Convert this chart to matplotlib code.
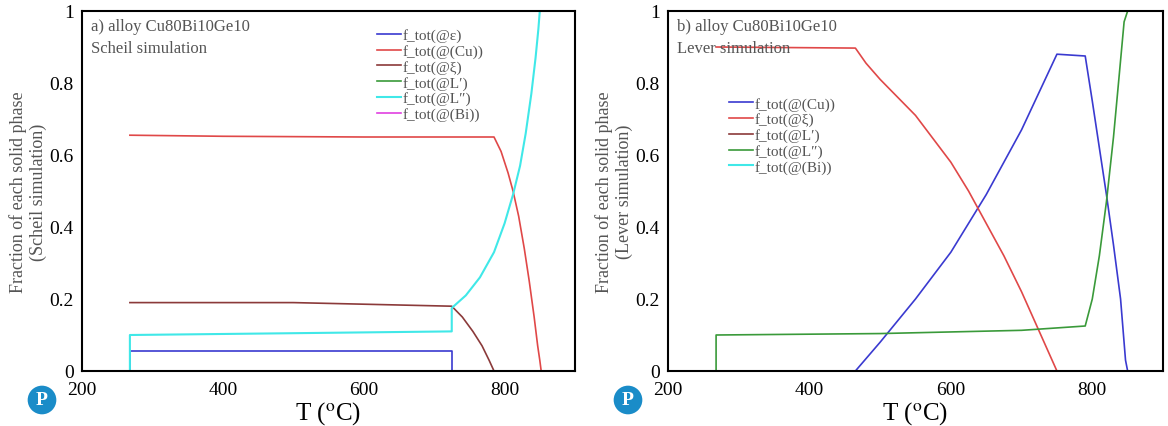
import numpy as np
import matplotlib
matplotlib.use("Agg")
import matplotlib.pyplot as plt

plt.rcParams['font.family'] = ['Liberation Serif', 'DejaVu Serif']
plt.rcParams['mathtext.fontset'] = 'stix'

# a) Scheil simulation
sch_eps_T = [268, 268, 725, 725]
sch_eps_f = [0.0, 0.055, 0.055, 0.0]
sch_cu_T = [268, 400, 600, 785, 795, 805, 812, 820, 828, 835, 842, 847, 850, 852]
sch_cu_f = [0.655, 0.652, 0.65, 0.65, 0.61, 0.55, 0.5, 0.43, 0.34, 0.25, 0.15, 0.07, 0.03, 0.0]
sch_xi_T = [268, 500, 725, 740, 755, 768, 778, 785]
sch_xi_f = [0.19, 0.19, 0.18, 0.15, 0.11, 0.07, 0.03, 0.0]
sch_L2_T = [268, 268, 500, 725, 725, 745, 765, 785, 800, 812, 822, 830, 838, 844, 848, 850]
sch_L2_f = [0.0, 0.1, 0.105, 0.11, 0.175, 0.21, 0.26, 0.33, 0.41, 0.49, 0.57, 0.66, 0.77, 0.87, 0.95, 1.0]

# b) Lever simulation
lev_cu_T = [465, 500, 550, 600, 650, 700, 750, 790, 800, 810, 820, 830, 840, 847, 850]
lev_cu_f = [0.0, 0.08, 0.2, 0.33, 0.49, 0.67, 0.88, 0.875, 0.75, 0.62, 0.49, 0.35, 0.2, 0.03, 0.0]
lev_xi_T = [268, 465, 480, 500, 525, 550, 575, 600, 625, 650, 675, 700, 725, 750]
lev_xi_f = [0.9, 0.897, 0.855, 0.81, 0.76, 0.71, 0.645, 0.58, 0.5, 0.41, 0.32, 0.22, 0.11, 0.0]
lev_L2_T = [268, 268, 500, 700, 790, 800, 810, 820, 830, 838, 845, 850]
lev_L2_f = [0.0, 0.1, 0.104, 0.113, 0.125, 0.2, 0.32, 0.47, 0.65, 0.82, 0.97, 1.0]

blue = "#3a3ad0"
red = "#e04848"
brown = "#8b3a3a"
green = "#3a9a3a"
cyan = "#40e8e8"
magenta = "#e040e0"
gray = "#555555"

fig = plt.figure(figsize=(11.68, 4.27), dpi=100)
ax1 = fig.add_axes([82/1168, 55/427, 493/1168, 360/427])
ax2 = fig.add_axes([668/1168, 55/427, 495/1168, 360/427])

ax1.plot(sch_eps_T, sch_eps_f, color=blue, lw=1.2, label="f_tot(@ε)")
ax1.plot(sch_cu_T, sch_cu_f, color=red, lw=1.2, label="f_tot(@(Cu))")
ax1.plot(sch_xi_T, sch_xi_f, color=brown, lw=1.2, label="f_tot(@ξ)")
ax1.plot([], [], color=green, lw=1.2, label="f_tot(@L′)")
ax1.plot(sch_L2_T, sch_L2_f, color=cyan, lw=1.5, label="f_tot(@L″)")
ax1.plot([], [], color=magenta, lw=1.2, label="f_tot(@(Bi))")

ax2.plot(lev_cu_T, lev_cu_f, color=blue, lw=1.2, label="f_tot(@(Cu))")
ax2.plot(lev_xi_T, lev_xi_f, color=red, lw=1.2, label="f_tot(@ξ)")
ax2.plot([], [], color=brown, lw=1.2, label="f_tot(@L′)")
ax2.plot(lev_L2_T, lev_L2_f, color=green, lw=1.2, label="f_tot(@L″)")
ax2.plot([], [], color=cyan, lw=1.5, label="f_tot(@(Bi))")

panels = [(ax1, "a) alloy Cu80Bi10Ge10\nScheil simulation", "(Scheil simulation)", (0.57, 0.99)),
          (ax2, "b) alloy Cu80Bi10Ge10\nLever simulation", "(Lever simulation)", (0.095, 0.8))]
for ax, title, ylab, legpos in panels:
    ax.set_xlim(200, 900)
    ax.set_ylim(0, 1)
    ax.set_xticks([200, 400, 600, 800])
    ax.set_yticks([0, 0.2, 0.4, 0.6, 0.8, 1])
    ax.set_yticklabels(["0", "0.2", "0.4", "0.6", "0.8", "1"])
    ax.tick_params(axis="x", length=0, labelsize=14, pad=7)
    ax.tick_params(axis="y", length=0, labelsize=14, pad=6)
    for s in ax.spines.values():
        s.set_linewidth(1.5)
    ax.set_xlabel("T ($^{\\mathrm{o}}$C)", fontsize=18, labelpad=1)
    ax.set_ylabel("Fraction of each solid phase\n" + ylab, fontsize=13, color=gray, labelpad=2)
    ax.text(0.018, 0.98, title, transform=ax.transAxes, fontsize=12, color=gray,
            va="top", ha="left", linespacing=1.45)
    ax.legend(loc="upper left", bbox_to_anchor=legpos, frameon=False, fontsize=11,
              handlelength=1.6, handletextpad=0.1, labelspacing=0.12, labelcolor=gray)

# logo marks
for xl in [42/1168, 628/1168]:
    fig.text(xl, 26/427, "P", fontsize=14, fontweight="bold", color="white", ha="center", va="center",
             bbox=dict(boxstyle="circle,pad=0.3", fc="#1a8cc8", ec="none"))

fig.savefig("out.png", dpi=100)
